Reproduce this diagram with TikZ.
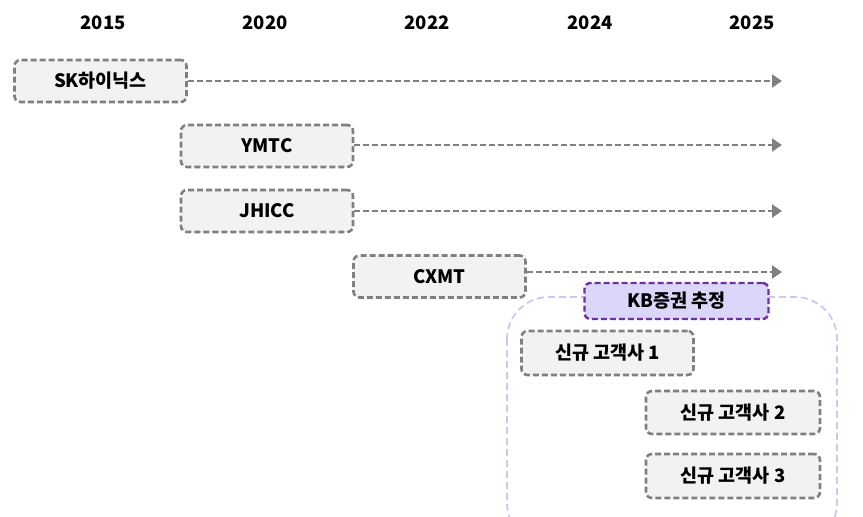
\documentclass[tikz,border=0pt]{standalone}
\usepackage{fontspec}
\setmainfont{Noto Sans CJK KR}
\usetikzlibrary{arrows.meta}
\definecolor{boxfill}{HTML}{F2F2F2}
\definecolor{boxline}{HTML}{808080}
\definecolor{lav}{HTML}{C9C9F7}
\definecolor{kbfill}{HTML}{DAD7FB}
\definecolor{kbline}{HTML}{7030A0}
\begin{document}
\begin{tikzpicture}[x=1pt,y=-1pt,
  font=\fontsize{18.5}{22}\selectfont\bfseries,
  yearlab/.style={text=black},
  cobox/.style={draw=boxline, fill=boxfill, line width=2.6pt, dash pattern=on 6pt off 3pt, rounded corners=6pt, minimum width=172pt, minimum height=42pt, inner sep=0pt},
  kbbox/.style={draw=kbline, fill=kbfill, line width=2.4pt, dash pattern=on 6pt off 3pt, rounded corners=6pt, minimum width=184pt, minimum height=36pt, inner sep=0pt},
  conn/.style={draw=boxline, line width=2.4pt, dash pattern=on 6pt off 3pt, -{Triangle[length=10pt,width=13pt,fill=boxline]}},
  frame/.style={draw=lav, line width=1.8pt, dash pattern=on 7pt off 4pt, rounded corners=42pt}
]
\useasboundingbox (0,0) rectangle (863,517);
\begin{scope}
\clip (0,0) rectangle (863,517);
\draw[frame] (507,297) rectangle (837,545);
\end{scope}
\node[yearlab] (y2015) at (103,23) {2015};
\node[yearlab] (y2020) at (265,23) {2020};
\node[yearlab] (y2022) at (427,23) {2022};
\node[yearlab] (y2024) at (590,23) {2024};
\node[yearlab] (y2025) at (752,23) {2025};

\node[cobox] (sk) at (100.5,81) {SK하이닉스};
\node[cobox] (ymtc) at (267,146) {YMTC};
\node[cobox] (jhicc) at (267,211) {JHICC};
\node[cobox] (cxmt) at (439.5,276.5) {CXMT};

\coordinate (e1) at (782,81);
\coordinate (e2) at (782,145);
\coordinate (e3) at (782,211);
\coordinate (e4) at (782,272);
\draw[conn] (sk.east) -- (e1);
\draw[conn] (ymtc.east |- e2) -- (e2);
\draw[conn] (jhicc.east) -- (e3);
\draw[conn] (cxmt.east |- e4) -- (e4);

\node[kbbox] (kb) at (676.5,301) {KB증권 추정};
\node[cobox, minimum height=44pt] (n1) at (607.5,353) {신규 고객사 1};
\node[cobox, minimum width=174pt, minimum height=43pt] (n2) at (733,412.5) {신규 고객사 2};
\node[cobox, minimum width=174pt, minimum height=44pt] (n3) at (733,476) {신규 고객사 3};
\end{tikzpicture}
\end{document}
